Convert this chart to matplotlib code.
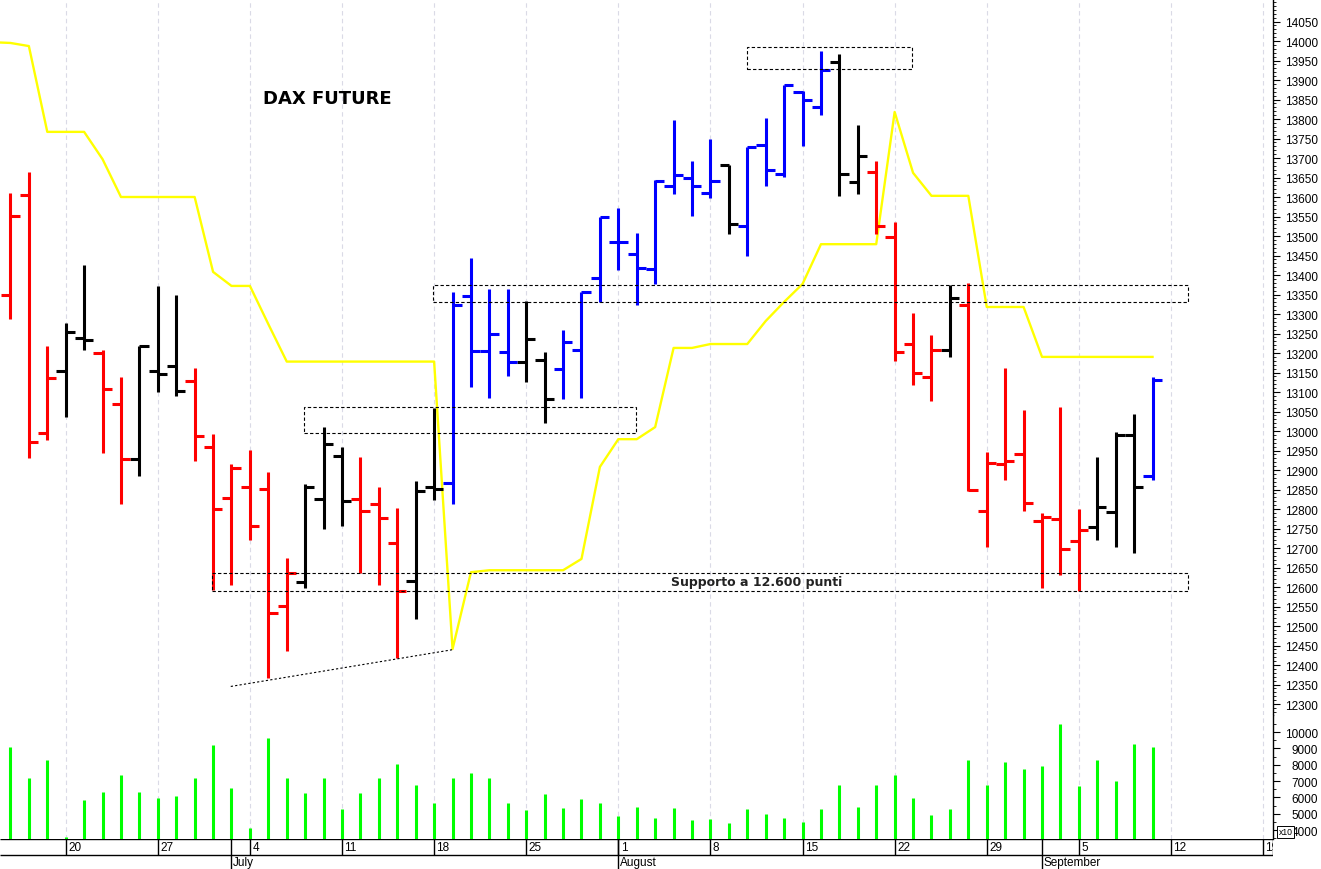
import numpy as np
import pandas as pd
import matplotlib
matplotlib.use("Agg")
import matplotlib.pyplot as plt
from matplotlib.patches import Rectangle

# DAX future daily bars, 15 Jun - 9 Sep 2022
dates = pd.bdate_range("2022-06-15", "2022-09-09")
opens = [13350, 13606, 12994, 13155, 13238, 13200, 13069, 12928, 13155, 13167,
         13127, 12958, 12828, 12856, 12851, 12552, 12612, 12826, 12935, 12826,
         12812, 12712, 12615, 12856, 12866, 13347, 13204, 13202, 13176, 13182,
         13159, 13208, 13392, 13484, 13454, 13415, 13629, 13648, 13609, 13683,
         13525, 13733, 13659, 13868, 13830, 13945, 13638, 13663, 13497, 13223,
         13138, 13208, 13323, 12794, 12915, 12941, 12768, 12774, 12719, 12753,
         12792, 12990, 12885]
highs = [13610, 13663, 13219, 13276, 13426, 13208, 13139, 13219, 13373, 13350,
         13161, 12992, 12915, 12952, 12896, 12674, 12864, 13009, 12960, 12933,
         12856, 12802, 12873, 13058, 13356, 13444, 13364, 13364, 13334, 13202,
         13259, 13356, 13550, 13571, 13508, 13644, 13797, 13693, 13749, 13683,
         13727, 13802, 13887, 13873, 13975, 13967, 13785, 13693, 13535, 13302,
         13245, 13374, 13379, 12947, 13161, 13054, 12789, 13061, 12800, 12933,
         12997, 13044, 13139]
lows = [13287, 12930, 12978, 13037, 13208, 12944, 12813, 12884, 13101, 13089,
        12922, 12593, 12605, 12721, 12366, 12435, 12597, 12749, 12756, 12636,
        12605, 12418, 12518, 12823, 12813, 13112, 13085, 13142, 13125, 13021,
        13082, 13085, 13332, 13414, 13324, 13377, 13608, 13551, 13597, 13505,
        13448, 13627, 13652, 13730, 13811, 13603, 13608, 13505, 13180, 13118,
        13076, 13189, 12847, 12702, 12875, 12794, 12597, 12632, 12591, 12721,
        12702, 12686, 12874]
closes = [13552, 12971, 13137, 13253, 13233, 13108, 12928, 13219, 13145, 13102,
          12986, 12800, 12905, 12757, 12533, 12636, 12856, 12967, 12821, 12794,
          12777, 12589, 12845, 12851, 13324, 13204, 13249, 13176, 13236, 13082,
          13229, 13356, 13548, 13484, 13417, 13642, 13656, 13629, 13640, 13531,
          13727, 13669, 13887, 13850, 13926, 13659, 13706, 13525, 13203, 13148,
          13208, 13340, 12849, 12918, 12922, 12815, 12779, 12697, 12746, 12804,
          12990, 12856, 13131]
# trend state of each bar: d = down (red), n = neutral (black), u = up (blue)
trend = ("ddd" "nn" "dd" "nnn" "dddddd" "nnn" "ddd" "nn" "uuuu" "nn"
         "uuuuuuuuu" "n" "uuuuu" "nn" "dddd" "n" "ddddddd" "nnn" "u")
volume = [9100, 7170, 8290, 3570, 5840, 6330, 7370, 6330, 5940, 6080,
          7180, 9190, 6570, 4120, 9630, 7170, 6250, 7180, 5270, 6250,
          7180, 8040, 6760, 5650, 7200, 7470, 7180, 5670, 5230, 6190,
          5350, 5900, 5640, 4860, 5390, 4740, 5350, 4610, 4670, 4410,
          5290, 4980, 4740, 4490, 5290, 6760, 5390, 6760, 7390, 5940,
          4920, 5290, 8290, 6760, 8180, 7750, 7900, 10490, 6690, 8290,
          7000, 9250, 9080]

# yellow stop line, 14 Jun - 9 Sep 2022
sig_dates = pd.bdate_range("2022-06-14", "2022-09-09")
signal = [13997, 13995, 13987, 13767, 13767, 13767, 13697, 13600, 13600, 13600,
          13600, 13600, 13408, 13372, 13372, 13274, 13178, 13178, 13178, 13178,
          13178, 13178, 13178, 13178, 13178, 12441, 12638, 12643, 12643, 12643,
          12643, 12643, 12672, 12908, 12979, 12979, 13010, 13213, 13213, 13223,
          13223, 13223, 13282, 13331, 13377, 13479, 13479, 13479, 13479, 13818,
          13662, 13603, 13603, 13603, 13318, 13318, 13318, 13190, 13190, 13190,
          13190, 13190, 13190, 13190]

# annotations: (start day, end day, low, high)
boxes = [("2022-08-10", "2022-08-23", 13928, 13984),
         ("2022-07-18", "2022-09-13", 13330, 13375),
         ("2022-07-07", "2022-08-02", 12996, 13061),
         ("2022-06-30", "2022-09-13", 12589, 12636)]
support_text = "Supporto a 12.600 punti"
trend_line = (("2022-07-01", 12345), ("2022-07-19", 12439))

REF = "2022-06-20"
def pos(d):
    return np.busday_count(REF, np.array(d, dtype="datetime64[D]"))

COL = {"d": "#FF0000", "n": "#000000", "u": "#0000FF"}
x = pos(dates.values.astype("datetime64[D]"))
xs = pos(sig_dates.values.astype("datetime64[D]"))
mondays = pd.date_range("2022-06-13", "2022-09-19", freq="W-MON")
xm = pos(mondays.values.astype("datetime64[D]"))
months = pd.to_datetime(["2022-07-01", "2022-08-01", "2022-09-01"])
xmo = pos(months.values.astype("datetime64[D]"))

W, H = 1321, 870
fig = plt.figure(figsize=(W / 100, H / 100), dpi=100)
fw = 1273 / W
axp = fig.add_axes([0, 154 / H, fw, 716 / H])
axv = fig.add_axes([0, 30 / H, fw, 124 / H], sharex=axp)
axd = fig.add_axes([0, 0, fw, 30 / H], sharex=axp)
XL = (-3.567, 65.54)
PY = (12271.8, 14107.7)
VY = (3450, 11041)

for ax, yl in ((axp, PY), (axv, VY)):
    ax.set_xlim(XL); ax.set_ylim(yl)
    ax.vlines(xm, *yl, colors="#dadae6", linestyles=(0, (4, 3)), lw=0.8, zorder=0)
    for s in ("top", "left", "bottom"):
        ax.spines[s].set_visible(False)
    ax.spines["right"].set_linewidth(1.0)
    ax.tick_params(axis="x", bottom=False, labelbottom=False)
    ax.yaxis.tick_right()
    ax.tick_params(axis="y", which="major", length=5, width=0.8, labelsize=8.5)
    ax.tick_params(axis="y", which="minor", length=2.5, width=0.6)

# price panel
axp.plot(xs, signal, color="#FFFF00", lw=1.7, zorder=1)
cols = [COL[t] for t in trend]
axp.vlines(x, lows, highs, colors=cols, lw=2.2, zorder=3)
axp.hlines(opens, x - 0.5, x, colors=cols, lw=2.2, zorder=3)
axp.hlines(closes, x, x + 0.5, colors=cols, lw=2.2, zorder=3)
for a, b, lo, hi in boxes:
    xa, xb = pos(a) - 0.04, pos(b) - 0.05
    axp.add_patch(Rectangle((xa, lo), xb - xa, hi - lo, fill=False, ec="black",
                            lw=0.8, ls=(0, (3, 2)), zorder=4))
(ta, ya), (tb, yb) = trend_line
axp.plot([pos(ta) - 0.04, pos(tb) - 0.03], [ya, yb], color="black", lw=0.8,
         ls=(0, (2, 2)), zorder=4)
axp.text(37.5, 12613, support_text, ha="center", va="center", fontsize=9,
         fontweight="bold", color="#222222", family="DejaVu Sans", zorder=5)
axp.text(0.2066, 0.862, "DAX FUTURE", transform=axp.transAxes, ha="left",
         va="center", fontsize=13, fontweight="bold", family="DejaVu Sans")
axp.set_yticks(np.arange(12300, 14051, 50))
axp.set_yticks(np.arange(12280, 14110, 10), minor=True)
for lb in axp.get_yticklabels():
    lb.set_family("Liberation Sans")
axp.tick_params(axis="y", which="major", pad=3.6)

# volume panel
axv.vlines(x, VY[0], volume, colors="#00FF00", lw=2.2, zorder=3)
axv.set_yticks(np.arange(4000, 10001, 1000))
axv.set_yticks(np.arange(3500, 10600, 500), minor=True)
axv.tick_params(axis="y", which="major", pad=27.4)
for lb in axv.get_yticklabels():
    lb.set_family("Liberation Sans"); lb.set_ha("right")
fig.text(1285.5 / W, 1 - 833 / H, "x10", fontsize=6.2, ha="center", va="center",
         family="Liberation Sans", zorder=10,
         bbox=dict(boxstyle="square,pad=0.2", fc="white", ec="black", lw=0.7))

# date rows
axd.set_xlim(XL); axd.set_ylim(0, 30); axd.axis("off")
axd.hlines([30, 14], *XL, colors="black", lw=1.0)
axd.vlines(xm, 14, 30, colors="black", lw=1.0)
axd.vlines(xmo, 0, 30, colors="black", lw=1.0)
axd.vlines(XL[1] - 0.02, 14, 30, colors="black", lw=1.0)
for xv, d in zip(xm, mondays):
    if xv > XL[0]:
        axd.text(xv + 0.13, 22, str(d.day), ha="left", va="center", fontsize=8.5,
                 family="Liberation Sans", clip_on=True)
for xv, d in zip(xmo, months):
    axd.text(xv + 0.08, 6.5, d.strftime("%B"), ha="left", va="center",
             fontsize=8.5, family="Liberation Sans", clip_on=True)

fig.savefig("out.png", dpi=100)
